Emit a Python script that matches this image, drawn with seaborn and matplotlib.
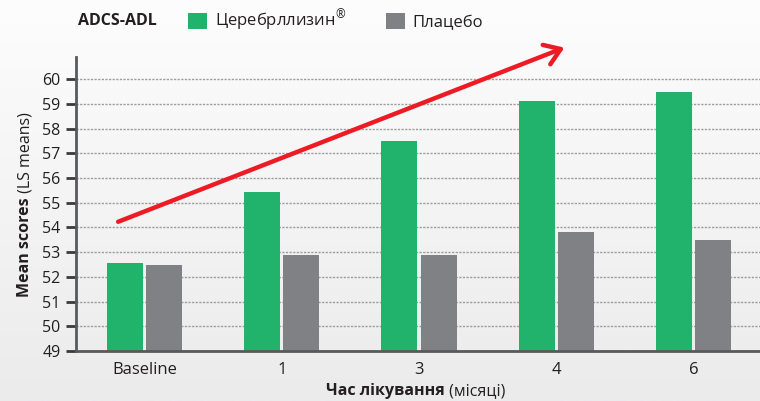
import numpy as np
import pandas as pd
import seaborn as sns
import matplotlib.pyplot as plt
from matplotlib.colors import LinearSegmentedColormap

months = ["Baseline", "1", "3", "4", "6"]
cerebrolysin = [52.55, 55.45, 57.5, 59.1, 59.5]
placebo = [52.5, 52.9, 52.9, 53.8, 53.5]
groups = ["Церебрллизин", "Плацебо"]
y_ticks = list(range(49, 61))

df = pd.DataFrame({
    "month": months * 2,
    "score": cerebrolysin + placebo,
    "group": [groups[0]] * len(months) + [groups[1]] * len(months),
})

sns.set_style("white")
plt.rcParams["font.family"] = ["Open Sans", "DejaVu Sans"]
plt.rcParams["mathtext.fontset"] = "custom"
plt.rcParams["mathtext.rm"] = "Open Sans"
text_col = "#231f20"

fig = plt.figure(figsize=(7.6, 4.01), dpi=100)

# soft vertical gradient behind everything
bg = fig.add_axes([0, 0, 1, 1], zorder=-10)
bg.axis("off")
grad = np.linspace(0, 1, 256).reshape(-1, 1)
bg.imshow(grad, aspect="auto", extent=(0, 1, 0, 1),
          cmap=LinearSegmentedColormap.from_list("bg", ["#fdfdfd", "#ebebec"]))

ax = fig.add_axes([76 / 760, 1 - 351 / 401, 686 / 760, 294 / 401])
ax.set_facecolor("none")

sns.barplot(data=df, x="month", y="score", hue="group", hue_order=groups,
            palette=["#21b36c", "#808184"], width=0.57, gap=0.08,
            saturation=1, linewidth=0, ax=ax)

ax.set_xlim(-0.5, 4.5)
ax.set_ylim(49, 60.9)
ax.set_yticks(y_ticks)
ax.set_axisbelow(True)
ax.yaxis.grid(True, color="#9d9d9d", linestyle=(0, (1.6, 1)), linewidth=1)
ax.xaxis.grid(False)

for side in ["top", "right"]:
    ax.spines[side].set_visible(False)
for side in ["left", "bottom"]:
    ax.spines[side].set_color("#58595b")
    ax.spines[side].set_linewidth(2)

ax.set_xticks([0.5, 1.5, 2.5, 3.5], minor=True)
ax.tick_params(axis="x", which="major", length=0, pad=8, labelsize=12, labelcolor=text_col)
ax.tick_params(axis="x", which="minor", length=5, width=1.5, color="#58595b", direction="out")
ax.tick_params(axis="y", which="major", left=True, length=7, width=2, color="#3a3a3a",
               pad=4, labelsize=11.5, labelcolor=text_col)
ax.set_xlabel("")
ax.set_ylabel("")

# labels with a bold part and a regular part
t1 = fig.text(17 / 760, 1 - 297 / 401, "Mean scores", rotation=90, fontsize=11.5,
              fontweight="bold", color=text_col, ha="left", va="bottom")
ax.annotate(" (LS means)", xy=(0.5, 1), xycoords=t1, rotation=90, fontsize=11.5,
            color=text_col, ha="center", va="bottom")
t2 = fig.text(326 / 760, 1 - 395 / 401, "Час лікування", fontsize=11.5,
              fontweight="bold", color=text_col, ha="left", va="baseline")
ax.annotate(" (місяці)", xy=(1, 0), xycoords=t2, fontsize=11.5,
            color=text_col, ha="left", va="bottom")

# legend row at the top
fig.text(78 / 760, 1 - 21 / 401, "ADCS-ADL", fontsize=11.5, fontweight="bold",
         color=text_col, ha="left", va="center")
handles, _ = ax.get_legend_handles_labels()
ax.legend(handles, ["Церебрллизин$^{®}$", "Плацебо"], loc="center left",
          bbox_to_anchor=(180 / 760, 1 - 21 / 401), bbox_transform=fig.transFigure,
          ncol=2, frameon=False, fontsize=12, handlelength=1.1, handleheight=1.1,
          handletextpad=0.5, columnspacing=2.4, borderpad=0, labelcolor=text_col)

# trend arrow
ax.annotate("", xy=(3.06, 61.28), xytext=(-0.193, 54.23), annotation_clip=False,
            arrowprops=dict(arrowstyle="->,head_length=1.1,head_width=0.75",
                            color="#ed1c24", lw=3.2, shrinkA=0, shrinkB=0))

fig.savefig("out.png", dpi=100)
